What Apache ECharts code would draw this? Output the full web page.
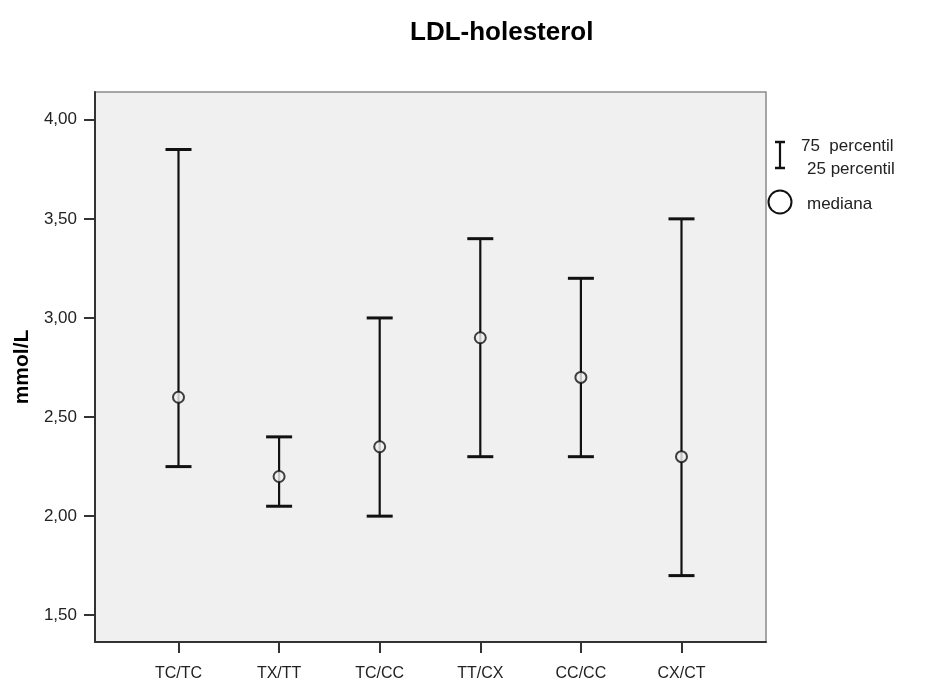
<!DOCTYPE html>
<html>
<head>
<meta charset="utf-8">
<script src="https://cdn.jsdelivr.net/npm/echarts@6/dist/echarts.min.js"></script>
<style>
html,body{margin:0;padding:0;background:#fff;}
#chart{width:925px;height:682px;}
</style>
</head>
<body>
<div id="chart"></div>
<script>
// Data
var categories = ['TC/TC', 'TX/TT', 'TC/CC', 'TT/CX', 'CC/CC', 'CX/CT'];
var percentile25 = [2.25, 2.05, 2.00, 2.30, 2.30, 1.70];
var medians      = [2.60, 2.20, 2.35, 2.90, 2.70, 2.30];
var percentile75 = [3.85, 2.40, 3.00, 3.40, 3.20, 3.50];
var yTicks = [1.5, 2.0, 2.5, 3.0, 3.5, 4.0];
var xTicks = [0, 1, 2, 3, 4, 5];

var barData = categories.map(function (c, i) { return [i, percentile25[i], percentile75[i]]; });
var medianData = categories.map(function (c, i) { return [i, medians[i]]; });

var ink = '#111';
var fontFam = 'Liberation Sans, Arial, sans-serif';

var chart = echarts.init(document.getElementById('chart'), null, {renderer: 'canvas'});
chart.setOption({
  animation: false,
  backgroundColor: '#ffffff',
  title: {
    text: 'LDL-holesterol',
    left: 410, top: 20, padding: 0,
    textStyle: {fontFamily: fontFam, fontSize: 26, fontWeight: 'bold', color: '#000'}
  },
  grid: {
    left: 95, right: 159, top: 92, bottom: 39,
    show: true, backgroundColor: '#f0f0f0', borderColor: '#8a8a8a', borderWidth: 1.5
  },
  xAxis: {
    type: 'value', min: -0.83, max: 5.84,
    axisLine: {show: true, onZero: false, lineStyle: {color: '#333', width: 2}},
    axisTick: {show: true, customValues: xTicks, length: 11, lineStyle: {color: '#333', width: 2}},
    axisLabel: {
      customValues: xTicks, margin: 24,
      formatter: function (v) { return categories[Math.round(v)]; },
      fontFamily: fontFam, fontSize: 16, color: '#222'
    },
    splitLine: {show: false}
  },
  yAxis: {
    type: 'value', min: 1.365, max: 4.14,
    name: 'mmol/L', nameLocation: 'middle', nameGap: 58, nameRotate: 90,
    nameTextStyle: {fontFamily: fontFam, fontSize: 21, fontWeight: 'bold', color: '#000'},
    axisLine: {show: true, onZero: false, lineStyle: {color: '#333', width: 2}},
    axisTick: {show: true, customValues: yTicks, length: 11, lineStyle: {color: '#333', width: 2}},
    axisLabel: {
      customValues: yTicks, margin: 18,
      formatter: function (v) { return v.toFixed(2).replace('.', ','); },
      fontFamily: fontFam, fontSize: 17, color: '#222'
    },
    splitLine: {show: false}
  },
  series: [
    {
      type: 'custom',
      data: barData,
      renderItem: function (params, api) {
        var x = api.value(0);
        var lo = api.coord([x, api.value(1)]);
        var hi = api.coord([x, api.value(2)]);
        var half = 13;
        return {
          type: 'group',
          children: [
            {type: 'line', shape: {x1: lo[0], y1: lo[1], x2: hi[0], y2: hi[1]}, style: {stroke: ink, lineWidth: 2.2}},
            {type: 'line', shape: {x1: hi[0] - half, y1: hi[1], x2: hi[0] + half, y2: hi[1]}, style: {stroke: ink, lineWidth: 3}},
            {type: 'line', shape: {x1: lo[0] - half, y1: lo[1], x2: lo[0] + half, y2: lo[1]}, style: {stroke: ink, lineWidth: 3}}
          ]
        };
      },
      z: 2
    },
    {
      type: 'scatter',
      data: medianData,
      symbol: 'circle',
      symbolSize: 11,
      itemStyle: {color: '#f0f0f0', borderColor: ink, borderWidth: 2},
      z: 3
    }
  ],
  graphic: [
    {type: 'line', shape: {x1: 780, y1: 142, x2: 780, y2: 168}, style: {stroke: ink, lineWidth: 2.2}},
    {type: 'line', shape: {x1: 775, y1: 142, x2: 785, y2: 142}, style: {stroke: ink, lineWidth: 2.5}},
    {type: 'line', shape: {x1: 775, y1: 168, x2: 785, y2: 168}, style: {stroke: ink, lineWidth: 2.5}},
    {type: 'text', x: 801, y: 146, style: {text: '75  percentil', fontFamily: fontFam, fontSize: 17, fill: '#222', verticalAlign: 'middle'}},
    {type: 'text', x: 807, y: 169, style: {text: '25 percentil', fontFamily: fontFam, fontSize: 17, fill: '#222', verticalAlign: 'middle'}},
    {type: 'circle', shape: {cx: 780, cy: 202, r: 11.5}, style: {fill: '#fff', stroke: ink, lineWidth: 2}},
    {type: 'text', x: 807, y: 204, style: {text: 'mediana', fontFamily: fontFam, fontSize: 17, fill: '#222', verticalAlign: 'middle'}}
  ]
});
</script>
</body>
</html>
